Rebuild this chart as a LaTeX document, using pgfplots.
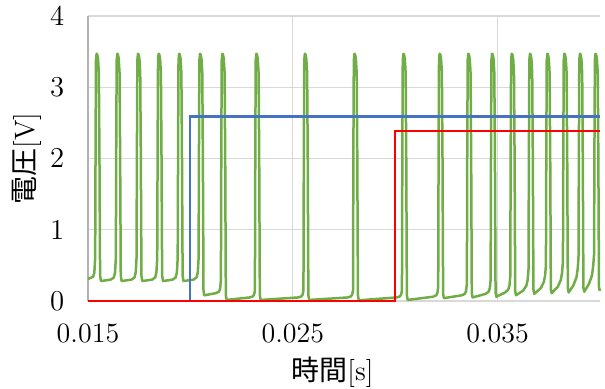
\documentclass[border=0pt]{standalone}
\usepackage{pgfplots}
\pgfplotsset{compat=1.18}
\usepackage{fontspec}
\newfontfamily\cjk{Noto Sans CJK JP}
\definecolor{cgreen}{HTML}{70AD47}
\definecolor{cblue}{HTML}{4472C4}
\definecolor{cred}{HTML}{FF0000}
\definecolor{cgrid}{HTML}{D9D9D9}
\begin{document}
\fontsize{14}{16}\selectfont
\begin{tikzpicture}
\useasboundingbox (-44pt,-43.5pt) rectangle (258.5pt,150.5pt);
\begin{axis}[
  scale only axis, width=256pt, height=142.5pt,
  xmin=0.015, xmax=0.040, ymin=0, ymax=4,
  scaled x ticks=false,
  xtick={0.015,0.025,0.035}, xticklabels={0.015,0.025,0.035},
  ytick={0,1,2,3,4},
  extra x ticks={0.015}, extra x tick labels={},
  extra x tick style={grid style={draw=gray!60, line width=0.6pt}},
  major tick length=0pt,
  grid=major, grid style={draw=cgrid, line width=0.6pt},
  axis line style={draw=none},
  tick label style={font=\fontsize{14}{16}\selectfont},
  xticklabel style={yshift=-6.5pt},
  yticklabel style={xshift=-7pt},
  xlabel={{\cjk 時間}[s]}, ylabel={{\cjk 電圧}[V]},
  label style={font=\fontsize{14}{16}\selectfont},
  xlabel style={at={(axis description cs:0.4775,-0.249)}, anchor=center},
  ylabel style={at={(axis description cs:-0.119,0.5)}, anchor=center},
  clip=false,
]
\addplot[cgreen, line width=1.25pt, line join=round] coordinates {
(0.01500,0.31)(0.01525,0.34)(0.01531,0.40)
(0.01535,0.60)(0.01537,2.2)(0.01539,3.38)(0.01542,3.47)(0.01545,3.46)(0.01549,3.40)(0.01553,3.20)(0.01556,2.0)(0.01559,0.36)(0.01563,0.28)
(0.01611,0.30)(0.01626,0.33)(0.01632,0.40)
(0.01636,0.60)(0.01638,2.2)(0.01640,3.38)(0.01643,3.47)(0.01646,3.46)(0.01650,3.40)(0.01654,3.20)(0.01657,2.0)(0.01660,0.36)(0.01664,0.28)
(0.01712,0.30)(0.01727,0.33)(0.01733,0.40)
(0.01737,0.60)(0.01739,2.2)(0.01741,3.38)(0.01744,3.47)(0.01747,3.46)(0.01751,3.40)(0.01755,3.20)(0.01758,2.0)(0.01761,0.36)(0.01765,0.28)
(0.01813,0.30)(0.01828,0.33)(0.01834,0.40)
(0.01838,0.60)(0.01840,2.2)(0.01842,3.38)(0.01845,3.47)(0.01848,3.46)(0.01852,3.40)(0.01856,3.20)(0.01859,2.0)(0.01862,0.36)(0.01866,0.28)
(0.01913,0.30)(0.01928,0.33)(0.01934,0.40)
(0.01938,0.60)(0.01940,2.2)(0.01942,3.38)(0.01945,3.47)(0.01948,3.46)(0.01952,3.40)(0.01956,3.20)(0.01959,2.0)(0.01962,0.36)(0.01966,0.28)
(0.02015,0.30)(0.02030,0.33)(0.02036,0.40)
(0.02040,0.60)(0.02042,2.2)(0.02044,3.38)(0.02047,3.47)(0.02050,3.46)(0.02054,3.40)(0.02058,3.20)(0.02061,2.0)(0.02064,0.14)(0.02068,0.08)
(0.02124,0.11)(0.02139,0.13)(0.02145,0.17)
(0.02149,0.30)(0.02151,2.2)(0.02153,3.38)(0.02156,3.47)(0.02159,3.46)(0.02163,3.40)(0.02167,3.20)(0.02170,2.0)(0.02173,0.08)(0.02177,0.015)
(0.02290,0.05)(0.02305,0.065)(0.02311,0.09)
(0.02315,0.15)(0.02317,2.2)(0.02319,3.38)(0.02322,3.47)(0.02325,3.46)(0.02329,3.40)(0.02333,3.20)(0.02336,2.0)(0.02339,0.08)(0.02343,0.015)
(0.02527,0.05)(0.02542,0.065)(0.02548,0.09)
(0.02552,0.15)(0.02554,2.2)(0.02556,3.38)(0.02559,3.47)(0.02562,3.46)(0.02566,3.40)(0.02570,3.20)(0.02573,2.0)(0.02576,0.08)(0.02580,0.015)
(0.02769,0.05)(0.02784,0.065)(0.02790,0.09)
(0.02794,0.15)(0.02796,2.2)(0.02798,3.38)(0.02801,3.47)(0.02804,3.46)(0.02808,3.40)(0.02812,3.20)(0.02815,2.0)(0.02818,0.08)(0.02822,0.01)
(0.03008,0.05)(0.03023,0.065)(0.03029,0.09)
(0.03033,0.15)(0.03035,2.2)(0.03037,3.38)(0.03040,3.47)(0.03043,3.46)(0.03047,3.40)(0.03051,3.20)(0.03054,2.0)(0.03057,0.08)(0.03061,0.015)
(0.03185,0.06)(0.03200,0.08)(0.03206,0.11)
(0.03210,0.20)(0.03212,2.2)(0.03214,3.38)(0.03217,3.47)(0.03220,3.46)(0.03224,3.40)(0.03228,3.20)(0.03231,2.0)(0.03234,0.10)(0.03238,0.04)
(0.03325,0.08)(0.03340,0.10)(0.03346,0.14)
(0.03350,0.25)(0.03352,2.2)(0.03354,3.38)(0.03357,3.47)(0.03360,3.46)(0.03364,3.40)(0.03368,3.20)(0.03371,2.0)(0.03374,0.11)(0.03378,0.05)
(0.03441,0.10)(0.03456,0.13)(0.03462,0.18)
(0.03466,0.30)(0.03468,2.2)(0.03470,3.38)(0.03473,3.47)(0.03476,3.46)(0.03480,3.40)(0.03484,3.20)(0.03487,2.0)(0.03490,0.12)(0.03494,0.06)
(0.03537,0.12)(0.03552,0.16)(0.03558,0.22)
(0.03562,0.35)(0.03564,2.2)(0.03566,3.38)(0.03569,3.47)(0.03572,3.46)(0.03576,3.40)(0.03580,3.20)(0.03583,2.0)(0.03586,0.14)(0.03590,0.08)
(0.03626,0.15)(0.03641,0.22)(0.03647,0.30)
(0.03651,0.45)(0.03653,2.2)(0.03655,3.38)(0.03658,3.47)(0.03661,3.46)(0.03665,3.40)(0.03669,3.20)(0.03672,2.0)(0.03675,0.16)(0.03679,0.10)
(0.03711,0.18)(0.03726,0.27)(0.03732,0.36)
(0.03736,0.50)(0.03738,2.2)(0.03740,3.38)(0.03743,3.47)(0.03746,3.46)(0.03750,3.40)(0.03754,3.20)(0.03757,2.0)(0.03760,0.17)(0.03764,0.11)
(0.03794,0.20)(0.03809,0.30)(0.03815,0.40)
(0.03819,0.55)(0.03821,2.2)(0.03823,3.38)(0.03826,3.47)(0.03829,3.46)(0.03833,3.40)(0.03837,3.20)(0.03840,2.0)(0.03843,0.18)(0.03847,0.12)
(0.03870,0.22)(0.03885,0.33)(0.03891,0.45)
(0.03895,0.60)(0.03897,2.2)(0.03899,3.38)(0.03902,3.47)(0.03905,3.46)(0.03909,3.40)(0.03913,3.20)(0.03916,2.0)(0.03919,0.19)(0.03923,0.13)
(0.03946,0.24)(0.03961,0.36)(0.03967,0.50)
(0.03971,0.65)(0.03973,2.2)(0.03975,3.38)(0.03978,3.47)(0.03981,3.46)(0.03985,3.40)(0.03989,3.20)(0.03992,2.0)(0.03995,0.20)(0.03999,0.14)
};
\addplot[cblue, line width=1.1pt] coordinates {(0.015,0)(0.020,0)(0.020,2.59)(0.040,2.59)};
\addplot[cred, line width=1.1pt] coordinates {(0.015,0)(0.030,0)(0.030,2.39)(0.040,2.39)};
\end{axis}
\end{tikzpicture}
\end{document}
